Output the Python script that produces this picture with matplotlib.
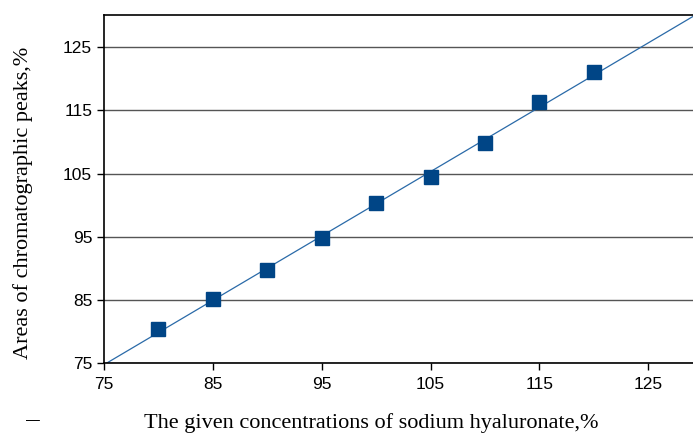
import matplotlib
matplotlib.use('Agg')
import matplotlib.pyplot as plt
import numpy as np

# Given concentrations vs measured peak areas (%)
conc = [80, 85, 90, 95, 100, 105, 110, 115, 120]
areas = [80.4, 85.1, 89.7, 94.8, 100.4, 104.4, 109.8, 116.3, 121.0]
ticks = [75, 85, 95, 105, 115, 125]

fig = plt.figure(figsize=(6.93, 4.34), dpi=100)
ax = fig.add_axes([0.150, 0.1636, 0.850, 0.8018])

xmin, xmax = 75, 129.1
ymin, ymax = 75, 130.1

# linear trend line through the points
z = np.polyfit(conc, areas, 1)
p = np.poly1d(z)
xs = np.array([xmin, xmax])
ax.plot(xs, p(xs), color='#2a6aa8', linewidth=0.9, zorder=2)

ax.plot(conc, areas, linestyle='none', marker='s', markersize=10.5,
        color='#004586', zorder=3)

ax.set_xlim(xmin, xmax)
ax.set_ylim(ymin, ymax)
ax.set_xticks(ticks)
ax.set_yticks(ticks)
ax.tick_params(labelsize=12.5, length=5, width=1, direction='out', colors='black')
for lab in ax.get_xticklabels() + ax.get_yticklabels():
    lab.set_family('Liberation Sans')
ax.tick_params(axis='x', pad=5)

ax.yaxis.grid(True, color='#555555', linewidth=1)
ax.set_axisbelow(True)
ax.spines['right'].set_visible(False)
for s in ['left', 'bottom', 'top']:
    ax.spines[s].set_color('black')
    ax.spines[s].set_linewidth(1.2)

ax.set_xlabel('The given concentrations of sodium hyaluronate,%',
              family='Liberation Serif', fontsize=16)
ax.xaxis.set_label_coords(0.453, -0.143)
ax.set_ylabel('Areas of chromatographic peaks,%',
              family='Liberation Serif', fontsize=16)
ax.yaxis.set_label_coords(-0.121, 0.461)

fig.text(0.047, 0.022, '—', family='Liberation Sans', fontsize=10, ha='center')

plt.savefig('out.png', dpi=100)
